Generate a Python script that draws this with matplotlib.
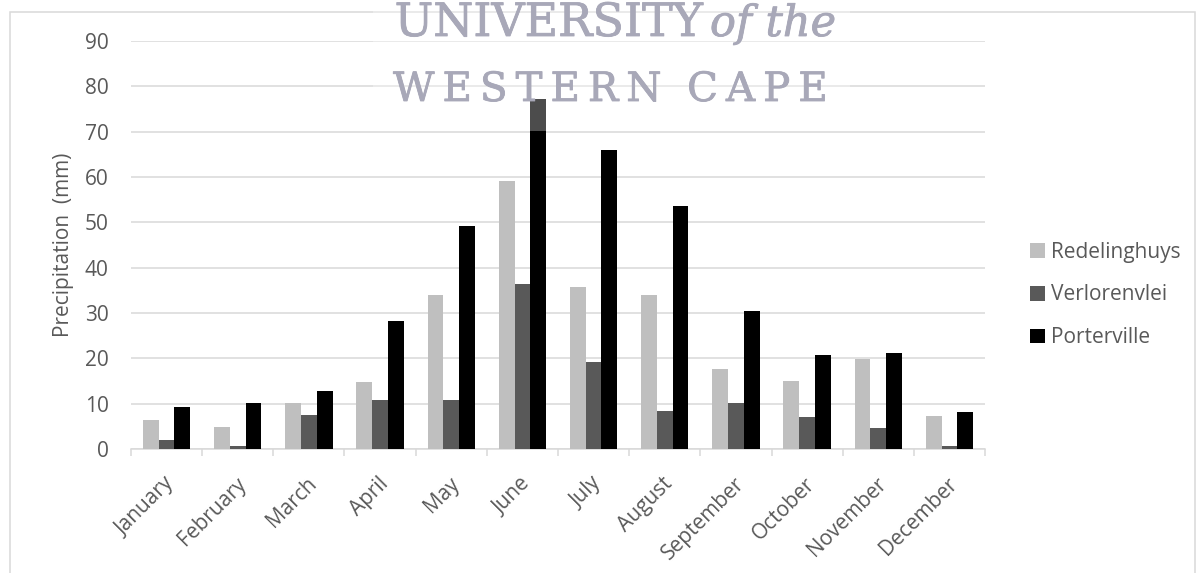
import matplotlib.pyplot as plt
import matplotlib.patheffects as pe
import numpy as np
from matplotlib.patches import Rectangle
from matplotlib.transforms import ScaledTranslation

# monthly precipitation (mm)
months = ['January', 'February', 'March', 'April', 'May', 'June',
          'July', 'August', 'September', 'October', 'November', 'December']
redelinghuys = [6.4, 4.9, 10.2, 14.7, 34.0, 59.1, 35.7, 34.0, 17.7, 15.1, 19.9, 7.3]
verlorenvlei = [2.0, 0.7, 7.5, 10.8, 10.9, 36.5, 19.1, 8.3, 10.1, 7.1, 4.6, 0.7]
porterville = [9.2, 10.1, 12.7, 28.2, 49.1, 77.3, 66.0, 53.5, 30.4, 20.8, 21.2, 8.2]

series = [('Redelinghuys', redelinghuys, '#bfbfbf'),
          ('Verlorenvlei', verlorenvlei, '#595959'),
          ('Porterville', porterville, '#000000')]

W, H = 1197, 573
fig = plt.figure(figsize=(W / 100, H / 100), dpi=100)
plt.rcParams['font.family'] = ['Open Sans', 'DejaVu Sans']
fs = 15

# axes box in pixels: x 131..985, y 41..449
ax = fig.add_axes([131 / W, (H - 449) / H, (985 - 131) / W, (449 - 41) / H])

x = np.arange(len(months))
bw = 1 / 4.5
for i, (name, vals, col) in enumerate(series):
    ax.bar(x + (i - 1) * bw, vals, width=bw, color=col, label=name, zorder=3)

ax.set_xlim(-0.5, len(months) - 0.5)
ax.set_ylim(0, 90)
ax.set_yticks(range(0, 91, 10))
ax.grid(axis='y', color='#d9d9d9', linewidth=1.1, zorder=0)
ax.set_axisbelow(True)

for s in ['top', 'right', 'left']:
    ax.spines[s].set_visible(False)
ax.spines['bottom'].set_color('#d9d9d9')
ax.spines['bottom'].set_linewidth(1.1)

ax.tick_params(axis='y', length=0, pad=16, labelsize=fs, labelcolor='#595959')
ax.set_xticks(x)
ax.set_xticks(np.arange(-0.5, len(months), 1), minor=True)
ax.tick_params(axis='x', which='major', length=0, pad=23, labelsize=fs, labelcolor='#595959')
ax.tick_params(axis='x', which='minor', length=5, width=1.1, color='#d9d9d9')
ax.set_xticklabels(months, rotation=45, ha='right', va='center', rotation_mode='anchor')
shift = ScaledTranslation(5 / 100, 0, fig.dpi_scale_trans)
for lab in ax.get_xticklabels():
    lab.set_transform(lab.get_transform() + shift)

ax.set_ylabel('Precipitation  (mm)', fontsize=fs, color='#595959', labelpad=8)

leg = ax.legend(loc='center left', bbox_to_anchor=(1022 / W, (H - 295) / H),
                bbox_transform=fig.transFigure, frameon=False, fontsize=fs,
                handlelength=0.7, handleheight=0.7, handletextpad=0.3,
                labelspacing=1.05, borderaxespad=0)
for t in leg.get_texts():
    t.set_color('#595959')

# chart area border
fig.patches.append(Rectangle((10 / W, -0.1), (1195 - 10) / W, (H - 12) / H + 0.1,
                             transform=fig.transFigure, fill=False,
                             edgecolor='#d9d9d9', linewidth=1.1, zorder=0))

# watermark
fig.patches.append(Rectangle((373 / W, (H - 131) / H), (850 - 373) / W, 131 / H,
                             transform=fig.transFigure, facecolor='white',
                             edgecolor='none', alpha=0.3, zorder=10))
wcol = '#a8a8b8'
wm = dict(color=wcol, family='DejaVu Serif', zorder=11, va='baseline',
          path_effects=[pe.withStroke(linewidth=0.6, foreground=wcol)])
fig.text(703 / W, (H - 36) / H, 'UNIVERSITY', fontsize=33, ha='right', **wm)
fig.text(710 / W, (H - 36) / H, 'of the', fontsize=31, ha='left', style='italic', **wm)
ts = '\u2009'
fig.text(610 / W, (H - 101) / H, ts.join('WESTERN') + '  ' + ts.join('CAPE'),
         fontsize=29, ha='center', **wm)

fig.savefig('out.png', dpi=100)
